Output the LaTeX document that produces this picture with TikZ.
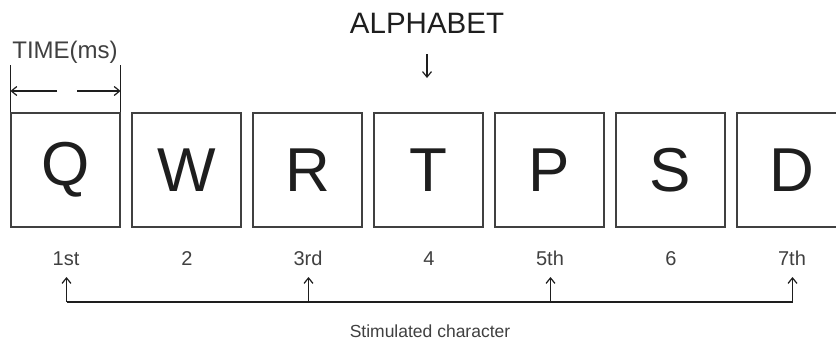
\documentclass[tikz,border=0pt]{standalone}
\usepackage{fontspec}
\setmainfont{Liberation Sans}
\usetikzlibrary{arrows.meta}
\definecolor{ink}{HTML}{1e1e1e}
\definecolor{boxline}{HTML}{404040}
\tikzset{
  letterbox/.style={draw=boxline, line width=1.2pt, minimum width=109pt, minimum height=114pt, inner sep=0pt, font=\fontsize{62}{62}\selectfont, text=ink},
  ordlabel/.style={font=\fontsize{20}{20}\selectfont, text=ink!85, inner sep=0pt},
  thinarrow/.style={draw=ink, line width=1.2pt, -{Straight Barb[length=5.5pt, width=9pt, line width=1.2pt]}},
  thinline/.style={draw=ink, line width=1.2pt},
}
\begin{document}
\begin{tikzpicture}[x=1pt, y=-1pt]
\path[use as bounding box] (0,0) rectangle (836,340);
\clip (0,0) rectangle (836,340);
\fill[white] (0,0) rectangle (836,340);

% boxes
\foreach \i/\c in {0/Q,1/W,2/R,3/T,4/P,5/S,6/D}{
  \node[letterbox] (box\i) at (65.5+121*\i,170) {\c};
}
% ordinal labels
\foreach \i/\t in {0/1st,1/2,2/3rd,3/4,4/5th,5/6,6/7th}{
  \node[ordlabel] (lab\i) at (66+121*\i,258.5) {\t};
}

% ALPHABET
\node[font=\fontsize{29.5}{29.5}\selectfont, text=ink, inner sep=0pt, anchor=base] (alpha) at (427,33) {ALPHABET};
\coordinate (alphaTop) at (427,54);
\coordinate (alphaTip) at (427,78);
\draw[thinarrow] (alphaTop) -- (alphaTip);

% TIME(ms)
\node[font=\fontsize{24}{24}\selectfont, text=ink!85, inner sep=0pt, anchor=base] (time) at (65,58) {TIME(ms)};
\coordinate (tl) at (box0.north west |- 0,65);
\coordinate (tr) at (box0.north east |- 0,65);
\draw[thinline] (tl) -- (box0.north west);
\draw[thinline] (tr) -- (box0.north east);
\coordinate (lstart) at (57,91);
\coordinate (lend) at (box0.north west |- 0,91);
\coordinate (rstart) at (77,91);
\coordinate (rend) at (box0.north east |- 0,91);
\draw[thinarrow] (lstart) -- (lend);
\draw[thinarrow] (rstart) -- (rend);

% stimulated arrows
\foreach \i in {0,2,4,6}{
  \coordinate (base\i) at (66.5+121*\i,302);
  \coordinate (tip\i) at (66.5+121*\i,277);
  \draw[thinarrow] (base\i) -- (tip\i);
}
\draw[thinline] (base0) -- (base6);
\node[font=\fontsize{17.5}{17.5}\selectfont, text=ink!85, inner sep=0pt] (stim) at (430,331) {Stimulated character};
\end{tikzpicture}
\end{document}
